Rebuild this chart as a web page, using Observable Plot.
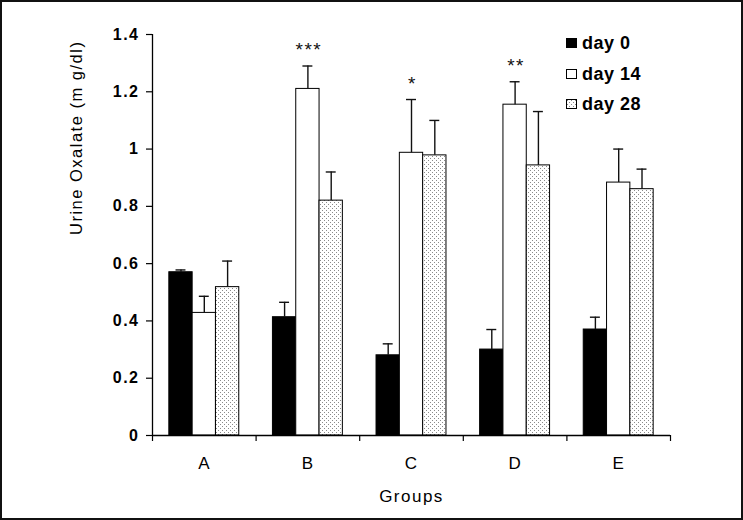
<!DOCTYPE html>
<html>
<head>
<meta charset="utf-8">
<script src="https://cdn.jsdelivr.net/npm/d3@7"></script>
<script src="https://cdn.jsdelivr.net/npm/@observablehq/plot@0.6"></script>
<style>
  body { margin: 0; background: #fff; }
  #wrap { position: relative; width: 743px; height: 520px; overflow: hidden; font-family: "Liberation Sans", Arial, sans-serif; }
  #frame { position: absolute; left: 0; top: 0; width: 743px; height: 520px; box-sizing: border-box; border: 2px solid #111; pointer-events: none; z-index: 5; }
  #legend { position: absolute; left: 0; top: 0; z-index: 4; }
  .item { position: absolute; left: 566px; height: 20px; display: flex; align-items: center; }
  .sw { width: 9px; height: 8px; border: 1px solid #000; margin-right: 5px; }
  .lab { font-size: 18px; font-weight: bold; line-height: 20px; color: #000; white-space: nowrap; letter-spacing: 0.5px; }
</style>
</head>
<body>
<div id="wrap"><div id="frame"></div><div id="legend"></div></div>
<script>
// ---- data ----
const groups = ["A", "B", "C", "D", "E"];
const days = ["day 0", "day 14", "day 28"];
const day0 = [0.570, 0.413, 0.280, 0.300, 0.370];
const day0Err = [0.008, 0.052, 0.040, 0.070, 0.043];
const day14 = [0.428, 1.210, 0.987, 1.155, 0.883];
const day14Err = [0.058, 0.080, 0.186, 0.080, 0.117];
const day28 = [0.518, 0.820, 0.978, 0.943, 0.860];
const day28Err = [0.091, 0.100, 0.122, 0.188, 0.070];
const sigGroups = ["B", "C", "D"];
const sigLabels = ["***", "*", "**"];
const sigDay = "day 14";
const yTicks = [0, 0.2, 0.4, 0.6, 0.8, 1, 1.2, 1.4];
const yTickLabels = ["0", "0.2", "0.4", "0.6", "0.8", "1", "1.2", "1.4"];
const yTitle = "Urine Oxalate (m g/dl)";
const xTitle = "Groups";

// ---- build table ----
const series = [day0, day14, day28];
const errs = [day0Err, day14Err, day28Err];
const pad = 0.1625, bw = 0.225; // layout within each group slot
const rows = [];
groups.forEach((g, i) => days.forEach((day, k) => {
  const v = series[k][i], e = errs[k][i];
  rows.push({group: g, day, value: v, top: v + e,
    x1: i + pad + k * bw, x2: i + pad + (k + 1) * bw, xc: i + pad + (k + 0.5) * bw});
}));
const sigRows = sigGroups.map((g, j) => {
  const r = rows.find(d => d.group === g && d.day === sigDay);
  return {...r, label: sigLabels[j]};
});
const boundaries = d3.range(groups.length + 1);
const centers = groups.map((g, i) => i + 0.5);
const fills = ["#000", "#fff", "url(#dots)"];

const svg = Plot.plot({
  width: 743, height: 520,
  marginLeft: 152, marginRight: 73, marginTop: 34, marginBottom: 85,
  style: {fontFamily: "'Liberation Sans', Arial, sans-serif", fontSize: "15px", color: "#000", background: "transparent"},
  x: {domain: [0, groups.length], axis: null},
  y: {domain: [0, 1.4], axis: null},
  color: {domain: days, range: fills},
  marks: [
    Plot.rectY(rows, {x1: "x1", x2: "x2", y1: 0, y2: "value", fill: "day", stroke: "#000", strokeWidth: 1}),
    Plot.ruleX(rows, {x: "xc", y1: "value", y2: "top", stroke: "#111", strokeWidth: 1.4}),
    Plot.ruleY(rows, {y: "top", x1: d => d.xc - 0.048, x2: d => d.xc + 0.048, stroke: "#111", strokeWidth: 1.4}),
    Plot.ruleX([0], {y1: 0, y2: 1.4, stroke: "#000", strokeWidth: 1.3}),
    Plot.ruleY([0], {x1: 0, x2: groups.length, stroke: "#000", strokeWidth: 1.3}),
    Plot.axisY({ticks: yTicks, tickSize: 6, tickPadding: 7, tickFormat: (d, i) => yTickLabels[i],
      fontSize: 16, fontWeight: "bold", strokeWidth: 1.2}),
    Plot.axisX({ticks: boundaries, tickSize: 6, tickFormat: () => "", strokeWidth: 1.2}),
    Plot.axisX({ticks: centers, tickSize: 0, tickPadding: 21, tickFormat: (d, i) => groups[i], fontSize: 17}),
    Plot.text(sigRows, {x: "xc", y: "top", dy: -16, dx: 1, text: "label", fontSize: 19, fill: "#111"}),
    Plot.text([yTitle], {frameAnchor: "left", dx: -76, rotate: -90, fontSize: 16.5}),
    Plot.text([xTitle], {frameAnchor: "bottom", dy: 66, fontSize: 17})
  ]
});

svg.insertAdjacentHTML("afterbegin",
  '<defs><pattern id="dots" width="4" height="4" patternUnits="userSpaceOnUse">' +
  '<rect width="4" height="4" fill="#fff"/>' +
  '<rect x="0" y="0" width="1" height="1" fill="#8a8a8a"/>' +
  '<rect x="2" y="2" width="1" height="1" fill="#8a8a8a"/></pattern></defs>');

const sel = d3.select(svg);
sel.selectAll('[aria-label="y-axis tick label"] text').style("letter-spacing", "1.5px");
sel.selectAll('[aria-label="x-axis tick label"] text').style("letter-spacing", "1px");
sel.selectAll('[aria-label="text"] text').style("letter-spacing", "1.5px");
svg.style.position = "absolute";
svg.style.left = "0";
svg.style.top = "0";
document.getElementById("wrap").appendChild(svg);

// legend
const legend = document.getElementById("legend");
days.forEach((d, k) => {
  const item = document.createElement("div");
  item.className = "item";
  item.style.top = (33 + k * 30.5) + "px";
  const sw = document.createElement("div");
  sw.className = "sw";
  if (k === 2) {
    sw.innerHTML = '<svg width="9" height="8" style="display:block"><rect width="9" height="8" fill="url(#dots)"/></svg>';
  } else {
    sw.style.background = fills[k];
  }
  const lab = document.createElement("span");
  lab.className = "lab";
  lab.textContent = d;
  item.appendChild(sw);
  item.appendChild(lab);
  legend.appendChild(item);
});
</script>
</body>
</html>
